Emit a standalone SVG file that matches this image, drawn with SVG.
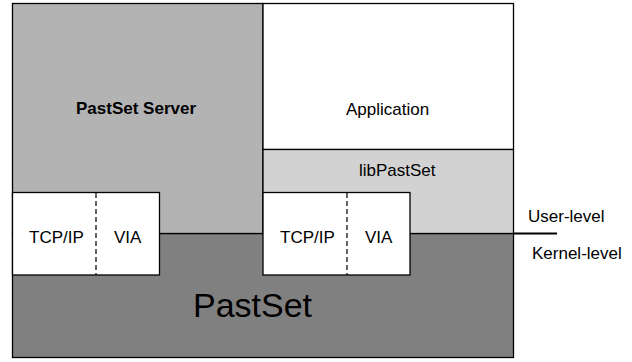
<svg xmlns="http://www.w3.org/2000/svg" width="632" height="362" viewBox="0 0 632 362">
<style>
.b{stroke:#000;stroke-width:1.3}
.t{font-family:"Liberation Sans",Arial,sans-serif;font-size:17px;fill:#000}
.d{stroke:#000;stroke-width:1.2;stroke-dasharray:5,3}
</style>
<rect width="632" height="362" fill="#fff"/>
<g id="kernel">
<rect class="b" x="12.5" y="233.5" width="501" height="124" fill="#808080"/>
<text class="t" x="193" y="317" style="font-size:34px">PastSet</text>
</g>
<g id="server">
<rect class="b" x="12.5" y="3.5" width="250.5" height="230" fill="#b3b3b3"/>
<text class="t" x="76" y="114" font-weight="bold">PastSet Server</text>
</g>
<g id="application">
<rect class="b" x="263" y="3.5" width="250.5" height="146" fill="#fff"/>
<text class="t" x="346" y="115">Application</text>
</g>
<g id="libpastset">
<rect class="b" x="263" y="149.5" width="250.5" height="84" fill="#d2d2d2"/>
<text class="t" x="359" y="176">libPastSet</text>
</g>
<g id="net-left">
<rect class="b" x="12.5" y="192.5" width="147" height="82.5" fill="#fff"/>
<line class="d" x1="96" y1="193" x2="96" y2="275"/>
<text class="t" x="29" y="243">TCP/IP</text>
<text class="t" x="114" y="243">VIA</text>
</g>
<g id="net-right">
<rect class="b" x="263" y="192.5" width="147" height="82.5" fill="#fff"/>
<line class="d" x1="347" y1="193" x2="347" y2="275"/>
<text class="t" x="280" y="243">TCP/IP</text>
<text class="t" x="365" y="243">VIA</text>
</g>
<g id="connectors">
<line x1="513" y1="233.5" x2="557" y2="233.5" stroke="#000" stroke-width="2.2"/>
</g>
<g id="labels">
<text class="t" x="528" y="222">User-level</text>
<text class="t" x="532" y="259">Kernel-level</text>
</g>
</svg>
